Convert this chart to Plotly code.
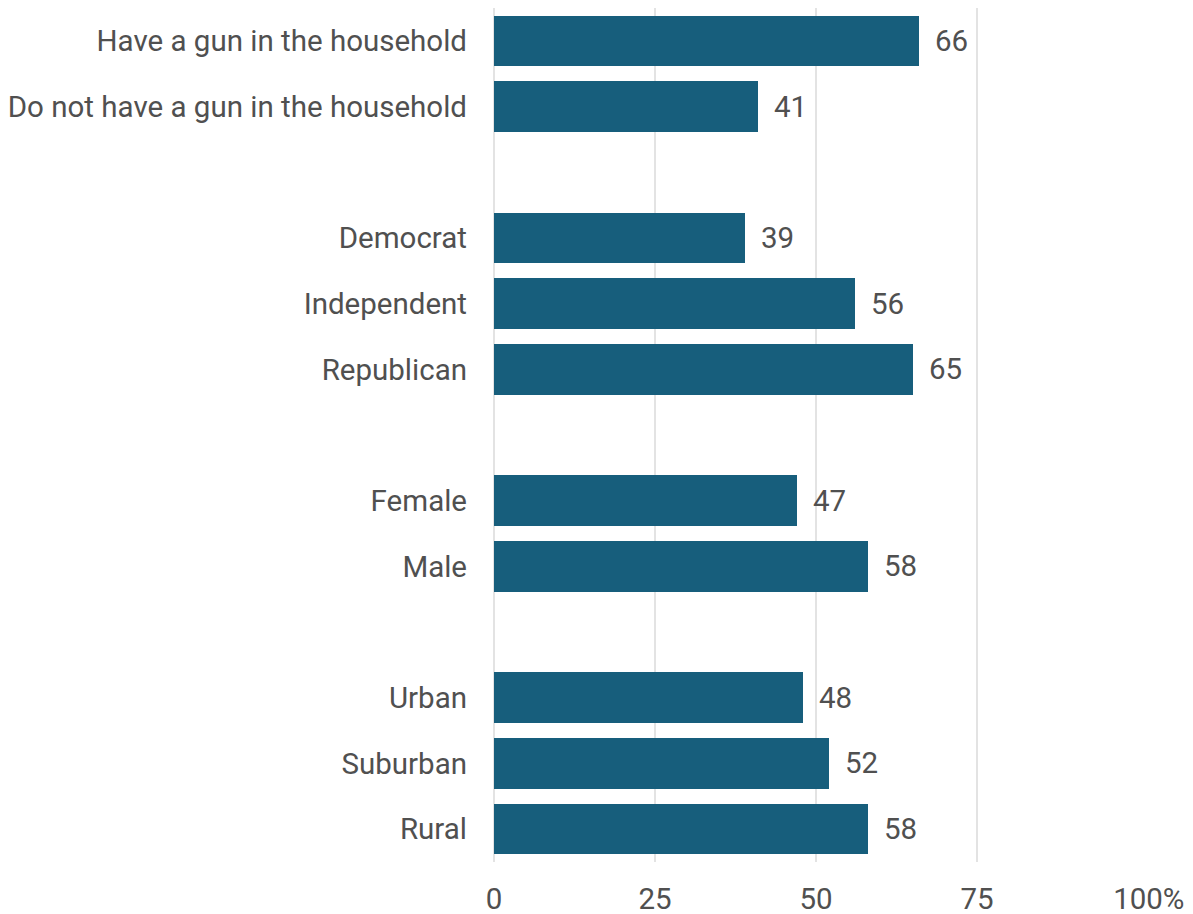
import plotly.graph_objects as go

# Data
group_gun = ["Have a gun in the household", "Do not have a gun in the household"]
vals_gun = [66, 41]
group_party = ["Democrat", "Independent", "Republican"]
vals_party = [39, 56, 65]
group_sex = ["Female", "Male"]
vals_sex = [47, 58]
group_area = ["Urban", "Suburban", "Rural"]
vals_area = [48, 52, 58]

groups = [(group_gun, vals_gun), (group_party, vals_party),
          (group_sex, vals_sex), (group_area, vals_area)]

x_ticks = [0, 25, 50, 75, 100]
x_ticktext = ["0", "25", "50", "75", "100%"]

# Build slot positions (one empty slot between groups)
labels, values, pos = [], [], []
slot = 0
for gi, (cats, vals) in enumerate(groups):
    if gi > 0:
        slot += 1
    for c, v in zip(cats, vals):
        labels.append(c)
        values.append(v)
        pos.append(slot)
        slot += 1
n_slots = slot

BAR = "#175e7c"
TXT = "#505050"
FONT = "Roboto"
FS = 29.5

# keep the number centred on its gridline with the "%" hanging to the right
x_tick_display = [
    "<span style='color:rgba(0,0,0,0)'>%</span>" + t if t.endswith("%") else t
    for t in x_ticktext
]

fig = go.Figure()
fig.add_trace(go.Bar(
    x=values, y=pos, orientation="h",
    marker=dict(color=BAR, line=dict(width=0)),
    width=0.77,
    hoverinfo="skip",
))

for v, p in zip(values, pos):
    fig.add_annotation(x=v, y=p, text=str(v), showarrow=False,
                       xanchor="left", yanchor="middle", xshift=14,
                       font=dict(family=FONT, size=FS, color=TXT))

# page body adds an 8px margin, so the figure is 8px smaller on each side
fig.update_layout(
    width=1185, height=906,
    margin=dict(l=486, r=55, t=0, b=52),
    paper_bgcolor="white", plot_bgcolor="white",
    showlegend=False,
    font=dict(family=FONT, size=FS, color=TXT),
    bargap=0,
)
fig.update_xaxes(
    range=[0, 100], tickvals=x_ticks, ticktext=x_tick_display,
    showgrid=True, gridcolor="#e3e3e3", gridwidth=1.5,
    zeroline=True, zerolinecolor="#e3e3e3", zerolinewidth=1.5,
    showline=False, ticks="", ticklabelstandoff=16, automargin=False,
    tickfont=dict(family=FONT, size=FS, color=TXT),
)
fig.update_yaxes(
    range=[n_slots - 0.5, -0.5], tickvals=pos, ticktext=labels,
    showgrid=False, zeroline=False, showline=False, ticks="",
    ticklabelstandoff=26, automargin=False,
    tickfont=dict(family=FONT, size=FS, color=TXT),
)

fig.write_html("out.html")
